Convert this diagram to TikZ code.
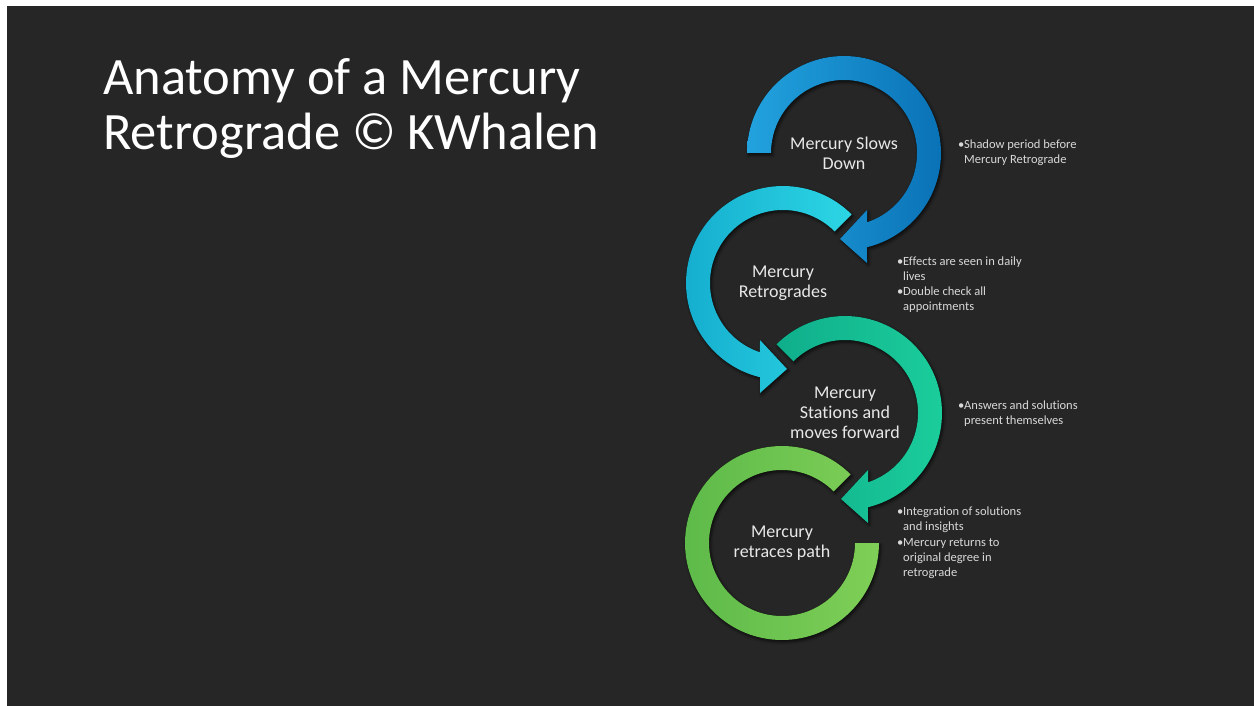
\documentclass[tikz,border=0pt]{standalone}
\usepackage{fontspec}
\setmainfont{Carlito}[Ligatures=NoCommon]
\usetikzlibrary{calc,shadows.blur}
\definecolor{bg}{HTML}{262626}
\definecolor{txt}{HTML}{E8E8E8}
\definecolor{btxt}{HTML}{D9D9D9}
\definecolor{blueL}{HTML}{22A2DE}
\definecolor{blueD}{HTML}{0A72B6}
\definecolor{cyanL}{HTML}{14ACCE}
\definecolor{cyanD}{HTML}{2CD6E4}
\definecolor{tealL}{HTML}{0FAE8B}
\definecolor{tealD}{HTML}{1CCF9C}
\definecolor{greenL}{HTML}{5CB949}
\definecolor{greenD}{HTML}{7FCF57}
\newcommand{\bl}{\makebox[6pt][l]{\textbullet}}
\newcommand{\ind}{\hspace*{6pt}}
\tikzset{
  ring/.style={blur shadow={shadow xshift=1.5pt,shadow yshift=-2pt,shadow blur radius=3pt,shadow opacity=70}},
  lbl/.style={text=txt,font=\fontsize{18}{20}\selectfont,align=center,inner sep=0pt},
  bul/.style={text=btxt,font=\fontsize{12.5}{15}\selectfont,align=left,inner sep=0pt,anchor=base west},
}
\begin{document}
\begin{tikzpicture}[x=1pt,y=1pt]
\fill[white] (0,0) rectangle (1254,-706);
\fill[bg] (7,-6) rectangle (1254,-706);
\useasboundingbox (0,0) rectangle (1254,-706);

\coordinate (cA) at (844,-153);
\coordinate (cB) at (783,-283);
\coordinate (cC) at (845,-413);
\coordinate (cD) at (782,-543);

% green ring (no head)
\fill[ring,left color=greenL,right color=greenD]
  ($(cD)+(45:97)$) arc[start angle=45,end angle=360,radius=97]
  -- ($(cD)+(0:73)$) arc[start angle=360,end angle=45,radius=73] -- cycle;

% teal arrow
\fill[ring,left color=tealL,right color=tealD]
  ($(cC)+(135:97)$) arc[start angle=135,end angle=-76.3,radius=97]
  -- ($(cC)+(23,-110)$) -- ($(cC)+(-4,-86)$) -- ($(cC)+(23,-57)$)
  -- ($(cC)+(-71.6:73)$) arc[start angle=-71.6,end angle=135,radius=73] -- cycle;

% cyan arrow
\fill[ring,left color=cyanL,right color=cyanD]
  ($(cB)+(45:97)$) arc[start angle=45,end angle=256.3,radius=97]
  -- ($(cB)+(-23,-110)$) -- ($(cB)+(4,-86)$) -- ($(cB)+(-23,-57)$)
  -- ($(cB)+(251.6:73)$) arc[start angle=251.6,end angle=45,radius=73] -- cycle;

% blue arrow
\fill[ring,left color=blueL,right color=blueD]
  ($(cA)+(180:97)$) arc[start angle=180,end angle=-76.3,radius=97]
  -- ($(cA)+(23,-110)$) -- ($(cA)+(-4,-86)$) -- ($(cA)+(23,-57)$)
  -- ($(cA)+(-71.6:73)$) arc[start angle=-71.6,end angle=180,radius=73] -- cycle;

\node[lbl] (lA) at (cA) {Mercury Slows\\Down};
\node[lbl] (lB) at (cB) {Mercury\\Retrogrades};
\node[lbl] (lC) at (cC) {Mercury\\Stations and\\moves forward};
\node[lbl] (lD) at (cD) {Mercury\\retraces path};

\node[text=white,font=\fontsize{52.5}{55}\selectfont,align=left,inner sep=0pt,anchor=base west] (title) at (103,-150)
  {Anatomy of a Mercury\\Retrograde © KWhalen};

\node[bul] (b1) at (958,-164) {\bl Shadow period before\\\ind Mercury Retrograde};
\node[bul] (b2) at (897,-280) {\bl Effects are seen in daily\\\ind lives};
\node[bul] (b3) at (897,-310) {\bl Double check all\\\ind appointments};
\node[bul] (b4) at (958,-424) {\bl Answers and solutions\\\ind present themselves};
\node[bul] (b5) at (897,-530) {\bl Integration of solutions\\\ind and insights};
\node[bul] (b6) at (897,-576) {\bl Mercury returns to\\\ind original degree in\\\ind retrograde};
\end{tikzpicture}
\end{document}
